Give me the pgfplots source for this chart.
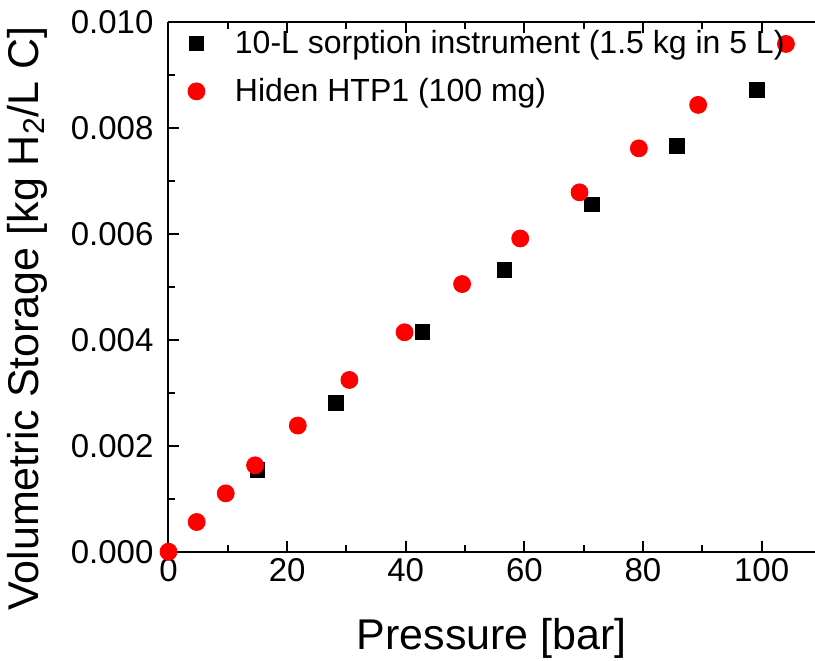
\documentclass[border=0pt]{standalone}
\usepackage{fontspec}
\setmainfont{Liberation Sans}
\usepackage{pgfplots}
\pgfplotsset{compat=1.18}
\begin{document}
\begin{tikzpicture}
\begin{axis}[
  name=ax,
  scale only axis, width=323.25pt, height=265pt,
  xmin=0, xmax=109, ymin=0, ymax=0.010,
  axis x line*=box, axis y line*=left,
  axis line style={line width=1pt},
  tick align=inside,
  xtick={0,20,40,60,80,100}, minor xtick={10,30,50,70,90},
  ytick={0,0.002,0.004,0.006,0.008,0.010},
  minor ytick={0.001,0.003,0.005,0.007,0.009},
  major tick length=5.5pt, minor tick length=3.5pt,
  every tick/.style={black, line width=1pt},
  scaled y ticks=false,
  yticklabel style={xshift=-4pt, /pgf/number format/.cd, fixed, fixed zerofill, precision=3},
  /pgf/number format/assume math mode=true,
  tick label style={font=\fontsize{16.5}{19}\selectfont},
  label style={font=\fontsize{21.5}{25}\selectfont},
  xlabel={Pressure [bar]},
  xlabel style={yshift=-11pt},
  ylabel={Volumetric Storage [kg H\textsubscript{2}/L C]},
  ylabel style={at={(ticklabel cs:0.44)}, yshift=5pt},
  clip=false,
  legend style={draw=none, fill=none, at={(axis cs:2.2,0.0100)}, anchor=north west,
    font=\fontsize{16}{19}\selectfont, row sep=7pt, column sep=13pt},
  legend cell align=left,
]
\addplot[only marks, mark=square*, mark size=3.6pt, black] coordinates {
  (15.0,0.00154) (28.2,0.00281) (42.8,0.00415) (56.6,0.00532)
  (71.4,0.00655) (85.7,0.00766) (99.2,0.00871)
};
\addlegendentry{10-L sorption instrument (1.5 kg in 5 L)}
\addplot[only marks, mark=*, mark size=4.25pt, red, mark options={draw=red, fill=red}] coordinates {
  (0,0) (4.75,0.00056) (9.65,0.00110) (14.6,0.00163) (21.8,0.00238)
  (30.5,0.00324) (39.8,0.00414) (49.5,0.00505) (59.3,0.00591)
  (69.3,0.00678) (79.3,0.00761) (89.3,0.00843) (104.1,0.00958)
};
\addlegendentry{Hiden HTP1 (100 mg)}
\end{axis}
\pgfresetboundingbox
\path ([xshift=-84.25pt,yshift=-54.65pt]ax.south west) rectangle ([yshift=10.85pt]ax.north east);
\end{tikzpicture}
\end{document}
